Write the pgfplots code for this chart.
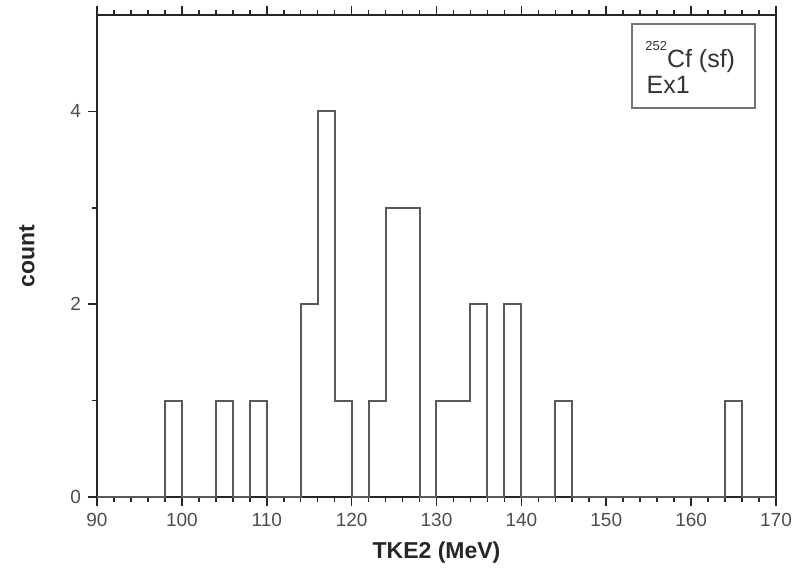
\documentclass[border=0pt]{standalone}
\usepackage{fontspec}
\setmainfont{Liberation Sans}
\usepackage{pgfplots}
\pgfplotsset{compat=1.18}
\begin{document}
\begin{tikzpicture}
\begin{axis}[
  width=339.5pt, height=241pt, scale only axis,
  xmin=90, xmax=170, ymin=0, ymax=5,
  xtick={90,100,...,170}, minor x tick num=4,
  ytick={0,2,4}, minor ytick={1,3},
  xtick pos=both, ytick pos=left, tick align=outside,
  xticklabel pos=bottom,
  major tick length=4.5pt, minor tick length=2.5pt,
  axis line style={line width=1pt, black!85},
  every tick/.style={black!85, line width=0.8pt},
  /pgf/number format/assume math mode=true,
  tick label style={font=\fontsize{9.5}{11}\selectfont, text=black!70},
  xlabel={\bfseries TKE2 (MeV)},
  ylabel={\bfseries count},
  label style={font=\fontsize{11.5}{13}\selectfont, text=black!85},
  xlabel style={at={([yshift=-28pt]axis description cs:0.5,0)}, anchor=center},
  ylabel style={at={([xshift=-35pt]axis description cs:0,0.5)}, anchor=center},
  clip=false,
]
\addplot[const plot mark left, black!65, line width=1pt] coordinates {
(90,0) (98,1) (100,0) (104,1) (106,0) (108,1) (110,0) (114,2) (116,4) (118,1)
(120,0) (122,1) (124,3) (126,3) (128,0) (130,1) (132,1) (134,2) (136,0) (138,2)
(140,0) (144,1) (146,0) (164,1) (166,0) (170,0)
};
\draw[black!55, line width=0.7pt] (rel axis cs:0.788,0.807) rectangle (rel axis cs:0.969,0.981);
\node[anchor=base west, inner sep=0pt, font=\fontsize{12.5}{14}\selectfont, text=black!80] at (rel axis cs:0.807,0.892)
  {\raisebox{8.3pt}{\fontsize{6.5}{7}\selectfont 252}Cf (sf)};
\node[anchor=base west, inner sep=0pt, font=\fontsize{12.5}{14}\selectfont, text=black!80] at (rel axis cs:0.809,0.838) {Ex1};
\end{axis}
\pgfresetboundingbox
\path ([xshift=-48.5pt,yshift=-38.5pt]current axis.south west) rectangle ([xshift=12pt,yshift=7.5pt]current axis.north east);
\end{tikzpicture}
\end{document}
